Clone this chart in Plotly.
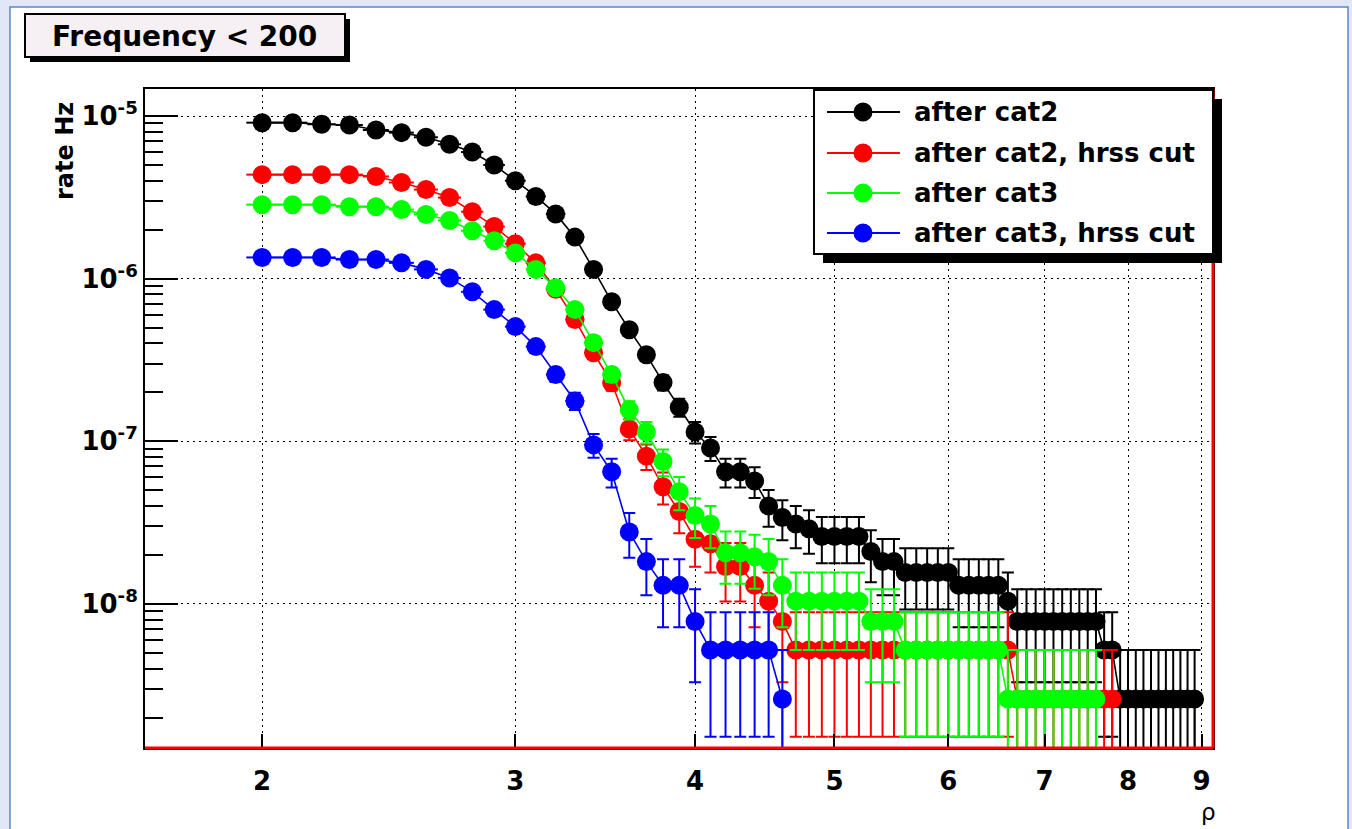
import math
import plotly.graph_objects as go

# Bin centres of the cumulative-rate histograms (threshold on rho)
RHO = [2.0, 2.1, 2.2, 2.3, 2.4, 2.5, 2.6, 2.7, 2.8, 2.9,
       3.0, 3.1, 3.2, 3.3, 3.4, 3.5, 3.6, 3.7, 3.8, 3.9,
       4.0, 4.1, 4.2, 4.3, 4.4, 4.5, 4.6, 4.7, 4.8, 4.9,
       5.0, 5.1, 5.2, 5.3, 5.4, 5.5, 5.6, 5.7, 5.8, 5.9,
       6.0, 6.1, 6.2, 6.3, 6.4, 6.5, 6.6, 6.7, 6.8, 6.9,
       7.0, 7.1, 7.2, 7.3, 7.4, 7.5, 7.6, 7.7, 7.8, 7.9,
       8.0, 8.1, 8.2, 8.3, 8.4, 8.5, 8.6, 8.7, 8.8, 8.9]
BIN_HALF_WIDTH = 0.05

# rate of a single surviving event (Hz); sets the Poisson error bars
RATE_PER_EVENT = 2.6e-9

after_cat2 = [9.1e-6, 9.1e-6, 8.9e-6, 8.8e-6, 8.2e-6, 7.9e-6, 7.4e-6, 6.7e-6, 6.0e-6, 5.0e-6,
              4.0e-6, 3.2e-6, 2.5e-6, 1.8e-6, 1.14e-6, 7.2e-7, 4.85e-7, 3.4e-7, 2.3e-7, 1.62e-7,
              1.14e-7, 9.1e-8, 6.5e-8, 6.5e-8, 5.7e-8, 4.0e-8, 3.4e-8, 3.1e-8, 2.9e-8, 2.6e-8,
              2.6e-8, 2.6e-8, 2.6e-8, 2.1e-8, 1.82e-8, 1.82e-8, 1.56e-8, 1.56e-8, 1.56e-8, 1.56e-8,
              1.56e-8, 1.3e-8, 1.3e-8, 1.3e-8, 1.3e-8, 1.3e-8, 1.04e-8, 7.8e-9, 7.8e-9, 7.8e-9,
              7.8e-9, 7.8e-9, 7.8e-9, 7.8e-9, 7.8e-9, 7.8e-9, 7.8e-9, 5.2e-9, 5.2e-9, 2.6e-9,
              2.6e-9, 2.6e-9, 2.6e-9, 2.6e-9, 2.6e-9, 2.6e-9, 2.6e-9, 2.6e-9, 2.6e-9, 2.6e-9]

after_cat2_hrss = [4.36e-6, 4.36e-6, 4.36e-6, 4.36e-6, 4.25e-6, 3.9e-6, 3.53e-6, 3.15e-6, 2.58e-6, 2.09e-6,
                   1.64e-6, 1.25e-6, 8.6e-7, 5.6e-7, 3.5e-7, 2.29e-7, 1.19e-7, 8.1e-8, 5.25e-8, 3.7e-8,
                   2.5e-8, 2.34e-8, 1.7e-8, 1.7e-8, 1.3e-8, 1.04e-8, 7.8e-9, 5.2e-9, 5.2e-9, 5.2e-9,
                   5.2e-9, 5.2e-9, 5.2e-9, 5.2e-9, 5.2e-9, 5.2e-9, 5.2e-9, 5.2e-9, 5.2e-9, 5.2e-9,
                   5.2e-9, 5.2e-9, 5.2e-9, 5.2e-9, 5.2e-9, 5.2e-9, 5.2e-9, 2.6e-9, 2.6e-9, 2.6e-9,
                   2.6e-9, 2.6e-9, 2.6e-9, 2.6e-9, 2.6e-9, 2.6e-9, 2.6e-9, 2.6e-9, 2.6e-9]

after_cat3 = [2.85e-6, 2.85e-6, 2.85e-6, 2.77e-6, 2.77e-6, 2.66e-6, 2.48e-6, 2.28e-6, 1.97e-6, 1.71e-6,
              1.44e-6, 1.14e-6, 8.8e-7, 6.45e-7, 4.04e-7, 2.57e-7, 1.56e-7, 1.14e-7, 7.5e-8, 4.9e-8,
              3.5e-8, 3.1e-8, 2.06e-8, 2.06e-8, 1.95e-8, 1.82e-8, 1.3e-8, 1.04e-8, 1.04e-8, 1.04e-8,
              1.04e-8, 1.04e-8, 1.04e-8, 7.8e-9, 7.8e-9, 7.8e-9, 5.2e-9, 5.2e-9, 5.2e-9, 5.2e-9,
              5.2e-9, 5.2e-9, 5.2e-9, 5.2e-9, 5.2e-9, 5.2e-9, 2.6e-9, 2.6e-9, 2.6e-9, 2.6e-9,
              2.6e-9, 2.6e-9, 2.6e-9, 2.6e-9, 2.6e-9, 2.6e-9, 2.6e-9]

after_cat3_hrss = [1.35e-6, 1.35e-6, 1.35e-6, 1.31e-6, 1.31e-6, 1.25e-6, 1.14e-6, 1.01e-6, 8.3e-7, 6.45e-7,
                   5.07e-7, 3.82e-7, 2.57e-7, 1.77e-7, 9.5e-8, 6.5e-8, 2.77e-8, 1.82e-8, 1.3e-8, 1.3e-8,
                   7.8e-9, 5.2e-9, 5.2e-9, 5.2e-9, 5.2e-9, 5.2e-9, 2.6e-9]

SERIES_NAMES = ["after cat2", "after cat2, hrss cut", "after cat3", "after cat3, hrss cut"]
SERIES_COLORS = ["#000000", "#ff0000", "#00ff00", "#0000ff"]
SERIES_VALUES = [after_cat2, after_cat2_hrss, after_cat3, after_cat3_hrss]

X_TICKS = [2, 3, 4, 5, 6, 7, 8, 9]
Y_TICKS = [1e-8, 1e-7, 1e-6, 1e-5]
Y_TICK_TEXT = ["10<sup>-8</sup>", "10<sup>-7</sup>", "10<sup>-6</sup>", "10<sup>-5</sup>"]
Y_MINOR = [m * 10.0 ** e for e in range(-9, -4) for m in range(2, 10)]

X_RANGE = [math.log10(1.658), math.log10(9.166)]
Y_RANGE = [-8.886, -4.834]

FONT = "DejaVu Sans"

# canvas geometry (pixels)
W, H = 1352, 829
ML, MR, MT, MB = 145, 139, 89, 81
PW, PH = W - ML - MR, H - MT - MB


def px(x):
    return (x - ML) / PW


def py(y):
    return (H - MB - y) / PH


fig = go.Figure()

y_floor = 10 ** Y_RANGE[0]
for name, color, vals in zip(SERIES_NAMES, SERIES_COLORS, SERIES_VALUES):
    xs = RHO[:len(vals)]
    errs = [math.sqrt(v * RATE_PER_EVENT) for v in vals]
    fig.add_trace(go.Scatter(
        x=xs, y=vals, name=name, mode="lines+markers",
        line=dict(color=color, width=1.6),
        marker=dict(color=color, size=19, symbol="circle"),
        error_y=dict(type="data", array=errs, visible=True, color=color, thickness=2, width=6),
        error_x=dict(type="constant", value=BIN_HALF_WIDTH, visible=True, color=color,
                     thickness=2, width=0),
        showlegend=False,
    ))
    # the line falls to the floor after the last populated bin
    fig.add_trace(go.Scatter(
        x=[xs[-1], xs[-1]], y=[vals[-1], y_floor], mode="lines",
        line=dict(color=color, width=1.6), showlegend=False, hoverinfo="skip",
    ))

axis_common = dict(
    showline=True, linewidth=2, linecolor="black", mirror=True,
    ticks="inside", tickwidth=2, tickcolor="black",
    showgrid=True, gridcolor="black", gridwidth=1.3, griddash="2px,4px",
    zeroline=False,
    tickfont=dict(family=FONT, size=26, color="black", weight="bold"),
)

fig.update_xaxes(type="log", range=X_RANGE, tickmode="array", tickvals=X_TICKS,
                 ticktext=[str(t) for t in X_TICKS], ticklen=14,
                 ticklabelstandoff=9, **axis_common)
fig.update_yaxes(type="log", range=Y_RANGE, tickmode="array", tickvals=Y_TICKS,
                 ticktext=Y_TICK_TEXT, ticklen=33, ticklabelstandoff=0,
                 minor=dict(tickmode="array", tickvals=Y_MINOR, ticks="inside", ticklen=18,
                            tickwidth=2, tickcolor="black", showgrid=False),
                 **axis_common)

shapes = []
# white canvas with a thin blue border
shapes.append(dict(type="rect", xref="paper", yref="paper", layer="below",
                   x0=px(10), x1=px(1348), y0=py(840), y1=py(7),
                   fillcolor="white", line=dict(color="#5b86c9", width=1.5)))
# red histogram edge along the floor and the right side of the frame
shapes.append(dict(type="line", xref="paper", yref="paper", x0=0, x1=1, y0=0, y1=0,
                   line=dict(color="#ff0000", width=3)))
shapes.append(dict(type="line", xref="paper", yref="paper", x0=1, x1=1, y0=0, y1=1,
                   line=dict(color="#ff0000", width=3)))

# legend box with drop shadow
LEG_X0, LEG_X1, LEG_Y0, LEG_Y1 = 814, 1213, 90, 254
shapes.append(dict(type="rect", xref="paper", yref="paper",
                   x0=px(LEG_X0 + 9), x1=px(LEG_X1 + 9), y0=py(LEG_Y1 + 9), y1=py(LEG_Y0 + 9),
                   fillcolor="black", line=dict(width=0)))
shapes.append(dict(type="rect", xref="paper", yref="paper",
                   x0=px(LEG_X0), x1=px(LEG_X1), y0=py(LEG_Y1), y1=py(LEG_Y0),
                   fillcolor="white", line=dict(color="black", width=2)))
LEG_ROWS = [112, 153, 193, 233]
annotations = []
for row_y, name, color in zip(LEG_ROWS, SERIES_NAMES, SERIES_COLORS):
    shapes.append(dict(type="line", xref="paper", yref="paper",
                       x0=px(827), x1=px(900), y0=py(row_y), y1=py(row_y),
                       line=dict(color=color, width=2)))
    shapes.append(dict(type="circle", xref="paper", yref="paper",
                       xsizemode="pixel", ysizemode="pixel",
                       xanchor=px(863), yanchor=py(row_y),
                       x0=-9.5, x1=9.5, y0=-9.5, y1=9.5,
                       fillcolor=color, line=dict(width=0)))
    annotations.append(dict(xref="paper", yref="paper", x=px(912), y=py(row_y),
                            xanchor="left", yanchor="middle", showarrow=False, text=name,
                            font=dict(family=FONT, size=26, color="black", weight="bold")))

# title box with drop shadow
T_X0, T_X1, T_Y0, T_Y1 = 25, 345, 14, 57
shapes.append(dict(type="rect", xref="paper", yref="paper",
                   x0=px(T_X0 + 5), x1=px(T_X1 + 5), y0=py(T_Y1 + 5), y1=py(T_Y0 + 5),
                   fillcolor="black", line=dict(width=0)))
shapes.append(dict(type="rect", xref="paper", yref="paper",
                   x0=px(T_X0), x1=px(T_X1), y0=py(T_Y1), y1=py(T_Y0),
                   fillcolor="#f6f0f4", line=dict(color="black", width=2)))
annotations.append(dict(xref="paper", yref="paper", x=px(184), y=py(36),
                        xanchor="center", yanchor="middle", showarrow=False,
                        text="Frequency < 200",
                        font=dict(family=FONT, size=28, color="black", weight="bold")))

# axis titles
annotations.append(dict(xref="paper", yref="paper", x=px(65), y=py(151),
                        xanchor="center", yanchor="middle", showarrow=False, textangle=-90,
                        text="rate Hz",
                        font=dict(family=FONT, size=24, color="black", weight="bold")))
annotations.append(dict(xref="paper", yref="paper", x=px(1208), y=py(812),
                        xanchor="center", yanchor="middle", showarrow=False,
                        text="ρ", font=dict(family=FONT, size=23, color="black")))

fig.update_layout(
    width=W, height=H, autosize=False,
    margin=dict(l=ML, r=MR, t=MT, b=MB),
    paper_bgcolor="#e2e7f7", plot_bgcolor="white",
    shapes=shapes, annotations=annotations,
    showlegend=False,
)

fig.write_html("out.html")
